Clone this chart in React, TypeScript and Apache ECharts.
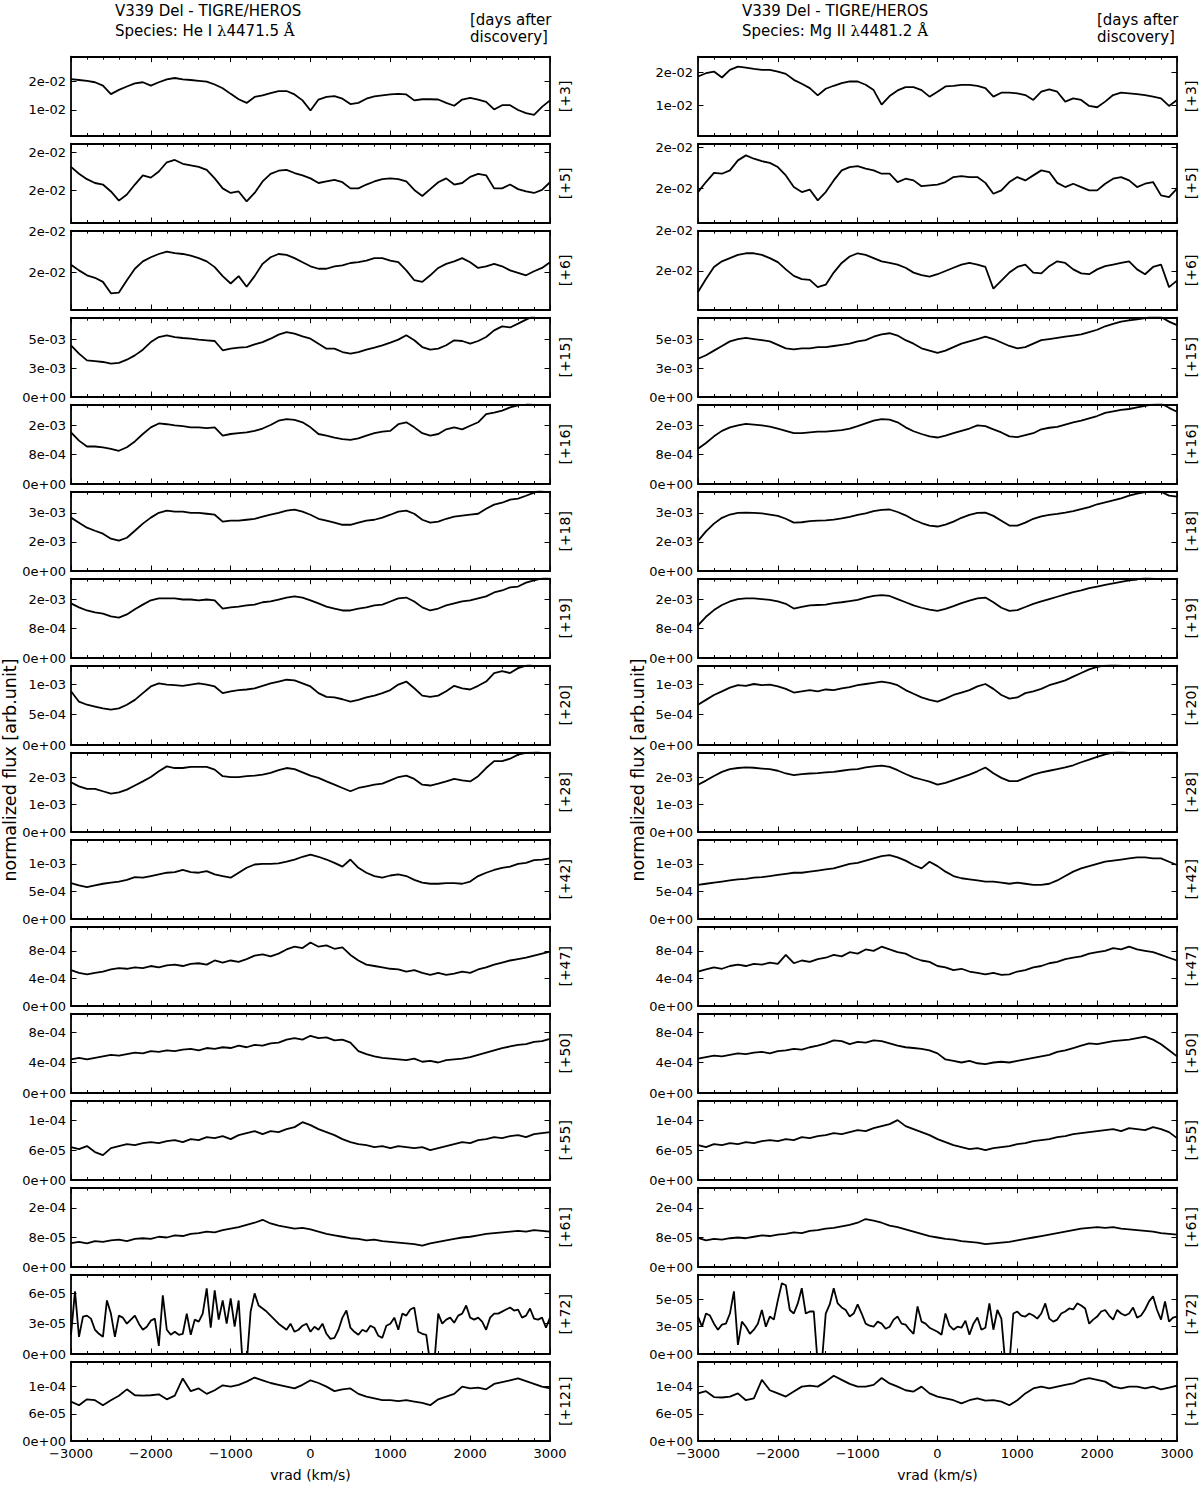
import React, { useEffect, useRef } from 'react';
import * as echarts from 'echarts';

// ---------- sampling grids (km/s) ----------
const VRAD_100 = Array.from({ length: 61 }, (_, i) => -3000 + 100 * i);
const VRAD_50 = Array.from({ length: 121 }, (_, i) => -3000 + 50 * i);

const dayLabels = ['[+3]', '[+5]', '[+6]', '[+15]', '[+16]', '[+18]', '[+19]', '[+20]', '[+28]', '[+42]', '[+47]', '[+50]', '[+55]', '[+61]', '[+72]', '[+121]'];

// ---------- He I 4471.5 (left column) ----------
// units: days 3-6 in 1e-2, 15-42 in 1e-3, 47-50 in 1e-4, 55-121 in 1e-5
const heDay3 = [2.09, 2.06, 2.03, 1.98, 1.86, 1.56, 1.71, 1.83, 1.94, 1.98, 1.86, 1.98, 2.08, 2.13, 2.08, 2.06, 2.03, 2.0, 1.9, 1.77, 1.57, 1.38, 1.25, 1.46, 1.52, 1.6, 1.67, 1.67, 1.55, 1.34, 0.98, 1.37, 1.46, 1.49, 1.4, 1.21, 1.25, 1.4, 1.48, 1.52, 1.55, 1.57, 1.55, 1.34, 1.38, 1.38, 1.37, 1.25, 1.15, 1.37, 1.43, 1.37, 1.29, 1.02, 1.17, 1.17, 1.0, 0.89, 0.83, 1.11, 1.34];
const heDay5 = [1.81, 1.72, 1.65, 1.6, 1.58, 1.49, 1.37, 1.45, 1.58, 1.70, 1.67, 1.75, 1.87, 1.9, 1.85, 1.83, 1.81, 1.77, 1.66, 1.53, 1.47, 1.49, 1.36, 1.47, 1.62, 1.72, 1.76, 1.77, 1.73, 1.70, 1.66, 1.6, 1.62, 1.64, 1.61, 1.53, 1.53, 1.58, 1.62, 1.65, 1.66, 1.65, 1.62, 1.51, 1.43, 1.52, 1.61, 1.66, 1.58, 1.6, 1.68, 1.72, 1.70, 1.53, 1.53, 1.58, 1.52, 1.49, 1.47, 1.51, 1.61];
const heDay6 = [1.59, 1.52, 1.46, 1.43, 1.38, 1.24, 1.25, 1.40, 1.54, 1.63, 1.68, 1.72, 1.75, 1.73, 1.72, 1.70, 1.67, 1.63, 1.56, 1.45, 1.36, 1.45, 1.32, 1.45, 1.60, 1.68, 1.72, 1.71, 1.67, 1.62, 1.57, 1.54, 1.54, 1.57, 1.58, 1.61, 1.62, 1.64, 1.67, 1.67, 1.64, 1.62, 1.52, 1.40, 1.38, 1.46, 1.55, 1.60, 1.63, 1.67, 1.62, 1.55, 1.57, 1.60, 1.57, 1.52, 1.49, 1.46, 1.51, 1.55, 1.62];
const heDay15 = [4.46, 3.74, 3.16, 3.1, 3.02, 2.88, 2.95, 3.22, 3.59, 4.08, 4.74, 5.17, 5.32, 5.17, 5.09, 5.03, 4.95, 4.89, 4.83, 4.03, 4.17, 4.26, 4.31, 4.54, 4.74, 5.03, 5.38, 5.6, 5.46, 5.23, 5.03, 4.6, 4.17, 4.17, 3.88, 3.74, 3.88, 4.08, 4.26, 4.46, 4.69, 4.95, 5.32, 4.89, 4.31, 4.08, 4.17, 4.46, 4.89, 4.83, 4.6, 4.83, 5.17, 5.75, 6.09, 6.0, 6.33, 6.67, 7.0, 7.3, 7.6];
const heDay16 = [1.32, 1.11, 0.96, 0.96, 0.94, 0.90, 0.85, 0.94, 1.09, 1.28, 1.45, 1.55, 1.53, 1.50, 1.48, 1.45, 1.45, 1.43, 1.45, 1.24, 1.28, 1.30, 1.32, 1.36, 1.42, 1.51, 1.62, 1.66, 1.64, 1.58, 1.45, 1.28, 1.24, 1.19, 1.15, 1.13, 1.17, 1.24, 1.30, 1.34, 1.36, 1.53, 1.58, 1.45, 1.30, 1.24, 1.28, 1.40, 1.45, 1.40, 1.49, 1.58, 1.79, 1.83, 1.88, 1.96, 2.01, 2.05, 2.1, 2.2, 2.3];
const heDay18 = [2.76, 2.50, 2.24, 2.08, 1.93, 1.67, 1.57, 1.72, 2.08, 2.45, 2.76, 3.01, 3.12, 3.07, 3.07, 3.01, 3.01, 2.96, 2.91, 2.55, 2.60, 2.60, 2.65, 2.70, 2.81, 2.91, 3.01, 3.12, 3.17, 3.07, 2.91, 2.70, 2.60, 2.50, 2.39, 2.39, 2.50, 2.60, 2.65, 2.76, 2.91, 3.07, 3.12, 2.96, 2.65, 2.50, 2.55, 2.70, 2.81, 2.86, 2.91, 2.96, 3.22, 3.43, 3.53, 3.69, 3.74, 3.89, 4.05, 4.2, 4.3];
const heDay19 = [1.39, 1.29, 1.21, 1.16, 1.13, 1.06, 1.03, 1.11, 1.24, 1.36, 1.47, 1.52, 1.52, 1.52, 1.49, 1.49, 1.47, 1.49, 1.47, 1.26, 1.29, 1.31, 1.34, 1.36, 1.42, 1.44, 1.49, 1.54, 1.57, 1.54, 1.47, 1.39, 1.31, 1.26, 1.21, 1.21, 1.26, 1.29, 1.34, 1.36, 1.44, 1.52, 1.54, 1.44, 1.29, 1.21, 1.26, 1.34, 1.39, 1.44, 1.47, 1.52, 1.57, 1.67, 1.72, 1.80, 1.82, 1.92, 1.98, 2.03, 2.08];
const heDay20 = [0.88, 0.71, 0.66, 0.63, 0.60, 0.58, 0.60, 0.66, 0.74, 0.85, 0.96, 1.01, 0.99, 0.98, 0.97, 0.99, 1.01, 0.99, 0.96, 0.85, 0.88, 0.90, 0.91, 0.93, 0.97, 1.01, 1.04, 1.07, 1.06, 1.01, 0.96, 0.85, 0.79, 0.78, 0.75, 0.71, 0.74, 0.78, 0.81, 0.85, 0.90, 0.99, 1.04, 0.93, 0.81, 0.79, 0.81, 0.88, 0.97, 0.93, 0.91, 0.97, 1.04, 1.18, 1.21, 1.18, 1.26, 1.30, 1.35, 1.4, 1.45];
const heDay28 = [1.82, 1.67, 1.58, 1.58, 1.49, 1.40, 1.45, 1.55, 1.70, 1.85, 2.01, 2.22, 2.40, 2.34, 2.34, 2.38, 2.38, 2.38, 2.28, 2.04, 2.01, 2.01, 2.04, 2.06, 2.10, 2.16, 2.26, 2.34, 2.30, 2.18, 2.06, 1.98, 1.85, 1.73, 1.61, 1.49, 1.61, 1.67, 1.73, 1.77, 1.89, 2.01, 2.06, 1.94, 1.73, 1.70, 1.77, 1.85, 1.94, 1.89, 1.85, 2.04, 2.34, 2.59, 2.59, 2.68, 2.83, 2.89, 2.92, 3.0, 3.1];
const heDay42 = [0.65, 0.61, 0.58, 0.61, 0.64, 0.66, 0.68, 0.71, 0.76, 0.75, 0.78, 0.81, 0.84, 0.85, 0.89, 0.85, 0.84, 0.87, 0.81, 0.78, 0.75, 0.84, 0.93, 0.99, 1.0, 1.0, 1.01, 1.04, 1.08, 1.13, 1.17, 1.13, 1.08, 1.02, 0.95, 1.08, 0.93, 0.84, 0.78, 0.75, 0.79, 0.81, 0.78, 0.71, 0.66, 0.64, 0.64, 0.65, 0.65, 0.64, 0.68, 0.78, 0.84, 0.89, 0.93, 0.95, 1.0, 1.02, 1.07, 1.08, 1.10];
const heDay47 = [5.2, 4.8, 4.6, 4.8, 5.0, 5.3, 5.5, 5.4, 5.6, 5.5, 5.8, 5.6, 5.9, 6.0, 5.8, 6.1, 6.2, 6.0, 6.6, 6.3, 6.6, 6.4, 6.8, 7.3, 7.5, 7.2, 7.6, 8.2, 8.6, 8.4, 9.2, 8.6, 8.8, 8.3, 8.5, 7.4, 6.6, 6.0, 5.8, 5.6, 5.4, 5.3, 5.0, 5.2, 4.8, 4.5, 4.8, 4.5, 4.7, 5.0, 4.8, 5.3, 5.6, 6.0, 6.3, 6.6, 6.8, 7.0, 7.3, 7.6, 7.9];
const heDay50 = [4.4, 4.6, 4.4, 4.6, 4.8, 5.0, 4.9, 5.1, 5.3, 5.2, 5.5, 5.4, 5.6, 5.5, 5.7, 5.8, 5.6, 5.9, 5.8, 6.0, 5.9, 6.2, 6.0, 6.3, 6.2, 6.5, 6.6, 7.0, 7.2, 7.0, 7.5, 7.2, 7.3, 6.9, 7.0, 6.6, 5.5, 5.1, 4.8, 4.6, 4.5, 4.4, 4.3, 4.5, 4.1, 4.2, 4.0, 4.3, 4.4, 4.5, 4.7, 5.0, 5.3, 5.6, 5.9, 6.1, 6.3, 6.4, 6.7, 6.8, 7.1];
const heDay55 = [6.6, 6.2, 6.8, 5.6, 5.0, 6.4, 6.8, 7.2, 7.0, 7.4, 7.6, 7.4, 7.8, 8.0, 7.6, 8.2, 8.0, 8.6, 8.4, 8.8, 8.2, 9.0, 9.4, 9.8, 9.2, 9.8, 9.6, 10.2, 10.6, 11.6, 11.0, 10.2, 9.6, 9.0, 8.2, 7.6, 7.2, 7.0, 6.6, 6.8, 6.4, 6.8, 6.6, 6.4, 6.6, 6.0, 6.4, 6.8, 7.2, 7.6, 7.4, 8.0, 8.2, 8.6, 8.4, 8.8, 9.0, 8.6, 9.2, 9.4, 9.6];
const heDay61 = [6.5, 6.8, 6.4, 7.0, 6.8, 7.2, 7.4, 7.0, 7.6, 7.8, 7.6, 8.2, 8.0, 8.6, 8.4, 9.0, 9.2, 9.6, 9.4, 10.0, 10.4, 10.8, 11.4, 12.0, 12.8, 11.8, 11.2, 10.8, 10.4, 10.6, 10.2, 9.6, 9.0, 8.6, 8.2, 7.8, 7.6, 7.2, 7.4, 7.0, 6.8, 6.6, 6.4, 6.2, 5.8, 6.4, 6.8, 7.2, 7.6, 8.0, 8.2, 8.6, 9.0, 9.2, 9.4, 9.6, 9.8, 9.6, 10.0, 9.8, 9.6];
const heDay72 = [
  1.9, 6.2, 1.7, 3.7, 3.8, 3.5, 2.4, 2.0, 1.7, 5.3,
  4.0, 1.7, 3.8, 3.6, 3.0, 3.4, 3.8, 3.0, 2.4, 2.7,
  3.3, 3.5, 0.8, 5.8, 2.4, 1.9, 2.2, 1.9, 2.0, 4.0,
  1.9, 3.4, 3.2, 4.0, 6.5, 2.6, 6.3, 3.4, 5.3, 3.0,
  5.5, 2.7, 5.3, -1, -1, 4.2, 6.0, 4.8, 4.5, 4.2,
  3.8, 3.4, 3.0, 2.7, 2.4, 3.0, 2.2, 2.4, 2.8, 3.0,
  2.2, 2.7, 2.4, 3.0, 2.0, 1.5, 1.6, 2.4, 3.6, 4.3,
  2.6, 2.2, 1.9, 2.4, 2.2, 2.8, 2.6, 1.8, 1.6, 2.8,
  3.0, 3.6, 2.4, 4.0, 3.8, 4.4, 4.6, 2.2, 2.0, 1.9,
  -1, -1, 4.0, 3.0, 3.4, 3.6, 3.1, 3.8, 4.0, 4.8,
  3.6, 3.4, 3.6, 3.2, 2.4, 3.6, 4.0, 4.0, 4.2, 4.4,
  4.6, 4.3, 4.4, 3.6, 3.8, 4.5, 3.5, 3.4, 3.6, 2.6,
  3.6];
const heDay121 = [8.7, 7.9, 9.2, 9.0, 7.9, 9.0, 10.0, 11.4, 10.1, 10.0, 10.1, 10.3, 9.2, 10.0, 13.8, 11.0, 11.6, 10.4, 11.2, 12.3, 12.0, 12.4, 13.1, 14.0, 13.4, 12.8, 12.4, 12.0, 11.6, 12.4, 13.4, 12.8, 12.0, 11.0, 11.4, 11.6, 10.4, 9.8, 9.4, 9.0, 9.0, 8.8, 9.0, 8.7, 8.4, 7.9, 9.2, 9.8, 10.4, 12.0, 11.6, 11.8, 11.4, 12.6, 13.0, 13.4, 13.8, 13.2, 12.6, 12.0, 11.6];

// ---------- Mg II 4481.2 (right column) ----------
const mgDay3 = [1.87, 1.97, 2.02, 1.84, 2.07, 2.17, 2.14, 2.10, 2.07, 2.07, 2.02, 1.95, 1.77, 1.65, 1.52, 1.30, 1.50, 1.59, 1.67, 1.72, 1.72, 1.62, 1.46, 1.02, 1.28, 1.45, 1.55, 1.55, 1.46, 1.26, 1.41, 1.57, 1.59, 1.62, 1.62, 1.59, 1.52, 1.26, 1.38, 1.38, 1.36, 1.31, 1.16, 1.41, 1.48, 1.41, 1.11, 1.21, 1.16, 0.98, 0.94, 1.11, 1.31, 1.38, 1.36, 1.34, 1.31, 1.26, 1.21, 0.98, 1.16];
const mgDay5 = [1.46, 1.58, 1.69, 1.68, 1.72, 1.84, 1.90, 1.86, 1.83, 1.81, 1.76, 1.66, 1.52, 1.46, 1.49, 1.36, 1.46, 1.60, 1.72, 1.76, 1.77, 1.74, 1.72, 1.68, 1.68, 1.58, 1.62, 1.60, 1.53, 1.54, 1.55, 1.58, 1.64, 1.65, 1.64, 1.64, 1.57, 1.44, 1.48, 1.58, 1.64, 1.60, 1.66, 1.72, 1.70, 1.57, 1.52, 1.56, 1.52, 1.48, 1.48, 1.56, 1.62, 1.64, 1.60, 1.52, 1.56, 1.58, 1.42, 1.40, 1.50];
const mgDay6 = [1.24, 1.40, 1.55, 1.62, 1.66, 1.70, 1.72, 1.72, 1.70, 1.66, 1.61, 1.52, 1.44, 1.40, 1.39, 1.30, 1.33, 1.48, 1.60, 1.68, 1.72, 1.70, 1.66, 1.62, 1.60, 1.58, 1.54, 1.48, 1.45, 1.43, 1.46, 1.50, 1.54, 1.58, 1.60, 1.58, 1.55, 1.28, 1.38, 1.48, 1.55, 1.58, 1.48, 1.47, 1.56, 1.62, 1.60, 1.52, 1.47, 1.46, 1.52, 1.56, 1.58, 1.60, 1.62, 1.52, 1.46, 1.55, 1.58, 1.30, 1.38];
const mgDay15 = [3.3, 3.6, 4.0, 4.4, 4.8, 5.0, 5.1, 5.0, 4.9, 4.8, 4.5, 4.2, 4.1, 4.2, 4.2, 4.3, 4.3, 4.4, 4.5, 4.6, 4.8, 4.9, 5.2, 5.4, 5.5, 5.3, 4.9, 4.6, 4.2, 4.0, 3.8, 4.0, 4.3, 4.6, 4.8, 5.0, 5.2, 5.0, 4.7, 4.4, 4.2, 4.3, 4.6, 4.9, 5.0, 5.1, 5.2, 5.3, 5.4, 5.6, 5.8, 6.1, 6.3, 6.5, 6.6, 6.7, 6.8, 7.0, 6.9, 6.5, 6.2];
const mgDay16 = [0.90, 1.05, 1.22, 1.36, 1.45, 1.50, 1.54, 1.52, 1.50, 1.47, 1.42, 1.36, 1.30, 1.30, 1.32, 1.34, 1.34, 1.36, 1.38, 1.42, 1.48, 1.55, 1.62, 1.66, 1.65, 1.58, 1.45, 1.35, 1.28, 1.22, 1.19, 1.24, 1.30, 1.36, 1.42, 1.50, 1.48, 1.40, 1.32, 1.22, 1.20, 1.25, 1.30, 1.40, 1.44, 1.46, 1.52, 1.58, 1.62, 1.68, 1.74, 1.82, 1.86, 1.90, 1.92, 1.96, 2.0, 2.04, 2.06, 1.95, 1.85];
const mgDay18 = [1.56, 2.05, 2.45, 2.75, 2.92, 3.0, 3.02, 3.0, 2.98, 2.92, 2.85, 2.70, 2.50, 2.52, 2.58, 2.60, 2.62, 2.66, 2.72, 2.80, 2.90, 2.98, 3.10, 3.16, 3.18, 3.05, 2.88, 2.65, 2.48, 2.35, 2.30, 2.40, 2.55, 2.75, 2.90, 3.0, 3.02, 2.85, 2.60, 2.35, 2.35, 2.50, 2.70, 2.82, 2.90, 2.95, 3.02, 3.10, 3.20, 3.30, 3.45, 3.55, 3.65, 3.75, 3.90, 4.0, 4.08, 4.12, 4.1, 3.9, 3.85];
const mgDay19 = [0.83, 1.05, 1.22, 1.35, 1.44, 1.50, 1.52, 1.52, 1.50, 1.48, 1.44, 1.38, 1.26, 1.30, 1.34, 1.35, 1.36, 1.40, 1.42, 1.45, 1.48, 1.54, 1.58, 1.60, 1.58, 1.50, 1.42, 1.34, 1.28, 1.23, 1.20, 1.25, 1.32, 1.40, 1.46, 1.52, 1.54, 1.42, 1.28, 1.20, 1.22, 1.30, 1.38, 1.44, 1.50, 1.56, 1.62, 1.68, 1.72, 1.78, 1.82, 1.86, 1.90, 1.94, 1.98, 2.0, 2.04, 2.08, 2.1, 2.12, 2.14];
const mgDay20 = [0.66, 0.74, 0.82, 0.88, 0.94, 0.98, 0.97, 1.0, 0.98, 0.99, 0.96, 0.92, 0.86, 0.88, 0.90, 0.88, 0.91, 0.90, 0.93, 0.95, 0.98, 1.0, 1.02, 1.04, 1.02, 0.98, 0.90, 0.84, 0.78, 0.74, 0.71, 0.76, 0.82, 0.86, 0.90, 0.96, 1.0, 0.92, 0.82, 0.76, 0.78, 0.85, 0.88, 0.92, 0.98, 1.02, 1.06, 1.12, 1.18, 1.24, 1.28, 1.30, 1.32, 1.34, 1.36, 1.38, 1.40, 1.42, 1.44, 1.46, 1.48];
const mgDay28 = [1.73, 1.88, 2.05, 2.20, 2.30, 2.34, 2.36, 2.35, 2.32, 2.30, 2.24, 2.14, 2.08, 2.12, 2.14, 2.15, 2.18, 2.20, 2.24, 2.28, 2.30, 2.36, 2.40, 2.43, 2.38, 2.26, 2.12, 2.0, 1.92, 1.84, 1.73, 1.80, 1.90, 2.0, 2.10, 2.22, 2.36, 2.15, 1.98, 1.86, 1.86, 1.98, 2.10, 2.18, 2.24, 2.30, 2.36, 2.44, 2.55, 2.65, 2.75, 2.84, 2.90, 2.95, 3.0, 3.05, 3.1, 3.1, 3.1, 3.1, 3.1];
const mgDay42 = [0.62, 0.64, 0.66, 0.68, 0.70, 0.72, 0.73, 0.75, 0.76, 0.78, 0.80, 0.82, 0.84, 0.84, 0.86, 0.88, 0.90, 0.92, 0.96, 1.0, 1.02, 1.06, 1.10, 1.14, 1.16, 1.12, 1.06, 0.98, 0.92, 1.04, 0.96, 0.86, 0.78, 0.74, 0.72, 0.70, 0.68, 0.68, 0.66, 0.64, 0.66, 0.64, 0.62, 0.62, 0.64, 0.70, 0.78, 0.86, 0.92, 0.96, 1.0, 1.04, 1.06, 1.08, 1.10, 1.12, 1.12, 1.10, 1.10, 1.04, 0.98];
const mgDay47 = [5.0, 5.3, 5.6, 5.4, 5.8, 6.0, 5.8, 6.1, 6.0, 6.3, 6.1, 7.4, 6.2, 6.6, 6.4, 6.8, 7.0, 7.4, 7.2, 7.8, 7.6, 8.2, 8.0, 8.6, 8.2, 7.8, 7.6, 7.0, 6.6, 6.4, 5.8, 5.6, 5.2, 5.4, 5.0, 4.8, 4.6, 4.8, 4.5, 4.6, 5.0, 5.2, 5.6, 5.8, 6.2, 6.4, 6.8, 7.0, 7.2, 7.6, 7.8, 8.0, 8.4, 8.2, 8.6, 8.2, 8.0, 7.8, 7.4, 7.0, 6.6];
const mgDay50 = [4.5, 4.7, 4.9, 4.8, 5.0, 5.2, 5.1, 5.3, 5.4, 5.2, 5.5, 5.6, 5.8, 5.7, 6.0, 6.2, 6.5, 6.9, 6.8, 6.4, 6.7, 6.6, 6.9, 6.8, 6.5, 6.2, 6.0, 5.9, 5.8, 5.6, 5.2, 4.4, 4.2, 4.0, 4.2, 3.9, 3.8, 4.0, 4.1, 4.0, 4.2, 4.4, 4.6, 4.8, 5.0, 5.4, 5.6, 5.9, 6.2, 6.5, 6.4, 6.6, 6.8, 6.9, 7.0, 7.2, 7.4, 7.0, 6.4, 5.6, 4.8];
const mgDay55 = [7.0, 6.6, 7.2, 7.0, 7.4, 7.2, 7.6, 7.4, 7.8, 8.0, 7.8, 8.2, 8.0, 8.6, 8.4, 8.8, 9.0, 9.4, 9.2, 9.6, 10.0, 9.8, 10.4, 10.8, 11.2, 12.0, 10.8, 10.2, 9.6, 9.0, 8.2, 7.6, 7.0, 6.6, 6.2, 6.4, 6.0, 6.4, 6.6, 6.8, 7.2, 7.4, 7.8, 8.0, 8.2, 8.6, 8.8, 9.2, 9.4, 9.6, 9.8, 10.0, 10.2, 9.8, 10.4, 10.2, 10.0, 10.6, 10.2, 9.6, 8.4];
const mgDay61 = [7.9, 7.2, 7.6, 7.4, 7.8, 8.0, 7.8, 8.2, 8.6, 8.4, 8.8, 9.0, 9.4, 9.2, 9.8, 10.0, 10.4, 10.6, 11.0, 11.4, 12.0, 13.0, 12.6, 12.0, 11.2, 10.8, 10.2, 9.6, 9.0, 8.4, 8.0, 7.6, 7.4, 7.0, 6.8, 6.6, 6.2, 6.4, 6.6, 6.8, 7.2, 7.6, 8.0, 8.4, 8.8, 9.2, 9.6, 10.0, 10.4, 10.6, 10.8, 10.6, 10.8, 10.4, 10.2, 10.0, 9.8, 9.6, 9.2, 9.0, 8.8];
const mgDay72 = [
  3.7, 2.7, 4.0, 3.8, 3.0, 2.4, 2.9, 3.0, 4.0, 6.2,
  0.9, 3.2, 2.7, 2.0, 2.4, 3.0, 4.35, 2.7, 3.7, 3.4,
  5.3, 7.0, 6.8, 4.35, 4.0, 5.0, 6.5, 4.0, 4.2, 4.2,
  -1, -1, 4.0, 4.9, 6.5, 5.0, 4.6, 4.35, 3.7, 4.0,
  4.9, 4.0, 3.0, 2.8, 2.7, 3.2, 3.0, 2.5, 2.7, 3.4,
  3.7, 3.0, 2.9, 2.4, 2.0, 4.7, 3.2, 3.0, 2.6, 2.4,
  2.2, 1.9, 4.0, 2.8, 2.4, 2.7, 2.6, 3.3, 1.9, 3.0,
  3.6, 2.4, 2.6, 5.0, 2.4, 4.35, 3.5, -1, -1, 4.0,
  4.2, 3.8, 3.7, 4.0, 3.8, 3.5, 4.0, 5.0, 3.5, 3.2,
  3.4, 4.0, 4.2, 4.5, 4.4, 5.0, 4.8, 4.5, 3.0, 3.4,
  3.7, 4.2, 4.35, 3.8, 3.4, 4.35, 4.0, 3.8, 4.0, 4.6,
  3.6, 3.8, 4.4, 5.2, 5.7, 4.35, 3.4, 5.2, 3.2, 3.6,
  3.7];
const mgDay121 = [10.5, 11.0, 9.7, 9.6, 9.8, 10.5, 9.0, 9.4, 13.5, 11.2, 10.5, 9.8, 10.9, 12.0, 12.2, 12.0, 13.1, 14.4, 13.5, 12.6, 12.0, 12.0, 12.4, 13.9, 12.7, 12.0, 11.2, 10.9, 12.0, 10.5, 9.8, 9.4, 9.0, 8.3, 9.0, 9.4, 8.9, 9.0, 8.7, 7.9, 9.0, 10.5, 11.6, 12.0, 11.6, 12.0, 12.4, 12.7, 13.5, 13.9, 13.5, 13.1, 12.0, 11.6, 12.0, 12.0, 11.6, 12.0, 11.4, 11.8, 12.2];

// ---------- y axes (same units as the series) ----------
const heYMin = [0.081, 1.079, 1.037, 0, 0, 0, 0, 0, 0, 0, 0, 0, 0, 0, 0, 0];
const heYMax = [2.883, 2.112, 2.004, 6.84, 2.03, 4.10, 2.02, 1.30, 2.90, 1.44, 11.5, 10.4, 15.9, 21.5, 7.85, 17.5];
const mgYMin = [0.07, 1.089, 1.016, 0, 0, 0, 0, 0, 0, 0, 0, 0, 0, 0, 0, 0];
const mgYMax = [2.47, 2.04, 2.0, 6.84, 2.03, 4.10, 2.02, 1.30, 2.90, 1.44, 11.5, 10.4, 15.9, 21.5, 7.84, 17.5];

const heTickValues = [[1, 2], [1.5, 2], [1.5, 2], [0, 2.5, 5], [0, 0.75, 1.5], [0, 1.5, 3], [0, 0.75, 1.5], [0, 0.5, 1], [0, 1, 2], [0, 0.5, 1], [0, 4, 8], [0, 4, 8], [0, 6, 12], [0, 8, 16], [0, 3, 6], [0, 6, 12]];
const mgTickValues = [[1, 2], [1.5, 2], [1.5, 2], [0, 2.5, 5], [0, 0.75, 1.5], [0, 1.5, 3], [0, 0.75, 1.5], [0, 0.5, 1], [0, 1, 2], [0, 0.5, 1], [0, 4, 8], [0, 4, 8], [0, 6, 12], [0, 8, 16], [0, 2.7, 5.4], [0, 6, 12]];
const heTickLabels = [
  ['1e-02', '2e-02'], ['2e-02', '2e-02'], ['2e-02', '2e-02'], ['0e+00', '3e-03', '5e-03'],
  ['0e+00', '8e-04', '2e-03'], ['0e+00', '2e-03', '3e-03'], ['0e+00', '8e-04', '2e-03'], ['0e+00', '5e-04', '1e-03'],
  ['0e+00', '1e-03', '2e-03'], ['0e+00', '5e-04', '1e-03'], ['0e+00', '4e-04', '8e-04'], ['0e+00', '4e-04', '8e-04'],
  ['0e+00', '6e-05', '1e-04'], ['0e+00', '8e-05', '2e-04'], ['0e+00', '3e-05', '6e-05'], ['0e+00', '6e-05', '1e-04'],
];
const mgTickLabels = [
  ['1e-02', '2e-02'], ['2e-02', '2e-02'], ['2e-02', '2e-02'], ['0e+00', '3e-03', '5e-03'],
  ['0e+00', '8e-04', '2e-03'], ['0e+00', '2e-03', '3e-03'], ['0e+00', '8e-04', '2e-03'], ['0e+00', '5e-04', '1e-03'],
  ['0e+00', '1e-03', '2e-03'], ['0e+00', '5e-04', '1e-03'], ['0e+00', '4e-04', '8e-04'], ['0e+00', '4e-04', '8e-04'],
  ['0e+00', '6e-05', '1e-04'], ['0e+00', '8e-05', '2e-04'], ['0e+00', '3e-05', '5e-05'], ['0e+00', '6e-05', '1e-04'],
];

const heSeries = [heDay3, heDay5, heDay6, heDay15, heDay16, heDay18, heDay19, heDay20, heDay28, heDay42, heDay47, heDay50, heDay55, heDay61, heDay72, heDay121];
const mgSeries = [mgDay3, mgDay5, mgDay6, mgDay15, mgDay16, mgDay18, mgDay19, mgDay20, mgDay28, mgDay42, mgDay47, mgDay50, mgDay55, mgDay61, mgDay72, mgDay121];

// ---------- layout ----------
const FONT = 'DejaVu Sans';
const TOP0 = 56.7;
const STEP = 87;
const PH = 79.3;
const PW = 479;

const columns = [
  { left: 71, series: heSeries, yMin: heYMin, yMax: heYMax, tv: heTickValues, tl: heTickLabels, titleX: 115, daysX: 470, dayLabelX: 565, yNameX: 10, species: 'He I', lambda: '4471.5' },
  { left: 698, series: mgSeries, yMin: mgYMin, yMax: mgYMax, tv: mgTickValues, tl: mgTickLabels, titleX: 742, daysX: 1097, dayLabelX: 1191, yNameX: 638, species: 'Mg II', lambda: '4481.2' },
];

function buildOption() {
  const grid: any[] = [];
  const xAxis: any[] = [];
  const yAxis: any[] = [];
  const series: any[] = [];
  const graphic: any[] = [];
  const lineStyle = { color: '#000', width: 1.8 };
  const tickStyle = { color: '#000', width: 1 };

  columns.forEach((col) => {
    col.series.forEach((vals, k) => {
      const gi = grid.length;
      const top = TOP0 + STEP * k;
      grid.push({ left: col.left, top, width: PW, height: PH, containLabel: false });
      const isLast = k === col.series.length - 1;
      const xBase = {
        gridIndex: gi, type: 'value', min: -3000, max: 3000, interval: 1000,
        axisLine: { show: true, onZero: false, lineStyle },
        axisTick: { show: true, inside: true, length: 5.5, lineStyle: tickStyle },
        minorTick: { show: true, splitNumber: 5, length: 3, lineStyle: tickStyle },
        splitLine: { show: false }, minorSplitLine: { show: false },
      };
      xAxis.push({
        ...xBase, position: 'bottom',
        axisLabel: {
          show: isLast, margin: 6, fontSize: 13, fontFamily: FONT, color: '#000',
          formatter: (v: number) => (v < 0 ? '\u2212' + Math.abs(v) : String(v)),
        },
      });
      xAxis.push({ ...xBase, position: 'top', axisLabel: { show: false } });
      const ticks = col.tv[k];
      const labels = col.tl[k];
      const yBase = {
        gridIndex: gi, type: 'value', min: col.yMin[k], max: col.yMax[k],
        axisLine: { show: true, onZero: false, lineStyle },
        axisTick: { show: true, inside: true, length: 5.5, lineStyle: tickStyle, customValues: ticks },
        splitLine: { show: false },
      };
      yAxis.push({
        ...yBase, position: 'left',
        axisLabel: {
          show: true, customValues: ticks, margin: 5, fontSize: 13, fontFamily: FONT, color: '#000',
          formatter: (v: number) => {
            const i = ticks.findIndex((t) => Math.abs(t - v) < 1e-9);
            return i >= 0 ? labels[i] : '';
          },
        },
      });
      yAxis.push({ ...yBase, position: 'right', axisLabel: { show: false } });
      const xs = vals.length === 121 ? VRAD_50 : VRAD_100;
      series.push({
        type: 'line', xAxisIndex: 2 * gi, yAxisIndex: 2 * gi,
        data: xs.map((x, i) => [x, vals[i]]),
        showSymbol: false, symbol: 'none', clip: true, silent: true,
        lineStyle: { color: '#000', width: 1.8 },
      });
      graphic.push({
        type: 'text', x: col.dayLabelX, y: top + PH / 2, rotation: Math.PI / 2,
        style: { text: dayLabels[k], fontSize: 14, fontFamily: FONT, fill: '#000', align: 'center', verticalAlign: 'middle' },
      });
    });

    graphic.push({
      type: 'text', x: col.titleX, y: 11,
      style: { text: 'V339 Del - TIGRE/HEROS', fontSize: 15, fontFamily: FONT, fill: '#000', align: 'left', verticalAlign: 'middle' },
    });
    graphic.push({
      type: 'text', x: col.titleX, y: 31,
      style: {
        text: 'Species: ' + col.species + ' {s|\u03bb}' + col.lambda + ' {s|\u00c5}',
        fontSize: 15, fontFamily: FONT, fill: '#000', align: 'left', verticalAlign: 'middle',
        rich: { s: { fontSize: 15, fontFamily: 'DejaVu Serif', fill: '#000' } },
      },
    });
    graphic.push({
      type: 'text', x: col.daysX, y: 20,
      style: { text: '[days after', fontSize: 15, fontFamily: FONT, fill: '#000', align: 'left', verticalAlign: 'middle' },
    });
    graphic.push({
      type: 'text', x: col.daysX, y: 37,
      style: { text: 'discovery]', fontSize: 15, fontFamily: FONT, fill: '#000', align: 'left', verticalAlign: 'middle' },
    });
    graphic.push({
      type: 'text', x: col.left + PW / 2, y: 1475,
      style: { text: 'vrad (km/s)', fontSize: 14, fontFamily: FONT, fill: '#000', align: 'center', verticalAlign: 'middle' },
    });
    graphic.push({
      type: 'text', x: col.yNameX, y: 770, rotation: Math.PI / 2,
      style: { text: 'normalized flux [arb.unit]', fontSize: 17.5, fontFamily: FONT, fill: '#000', align: 'center', verticalAlign: 'middle' },
    });
  });

  return {
    animation: false,
    backgroundColor: '#fff',
    grid, xAxis, yAxis, series, graphic,
  };
}

export default function App() {
  const ref = useRef<HTMLDivElement>(null);
  useEffect(() => {
    document.body.style.margin = '0';
    if (!ref.current) return;
    const chart = echarts.init(ref.current, undefined, { renderer: 'svg' });
    chart.setOption(buildOption() as any);
    return () => chart.dispose();
  }, []);
  return <div ref={ref} style={{ width: 1200, height: 1485, background: '#fff' }} />;
}
